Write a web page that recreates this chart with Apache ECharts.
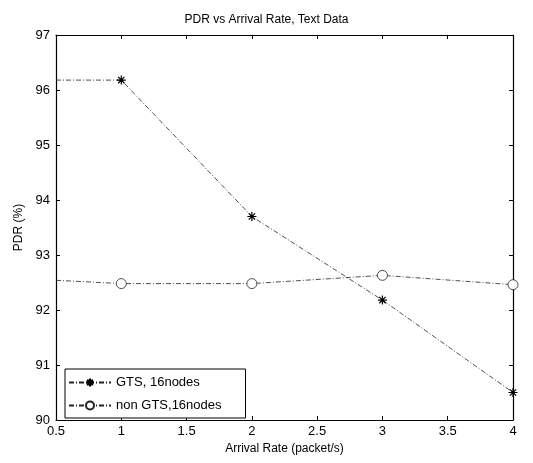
<html>
<head>
    <meta charset="utf-8">
    <script type="text/javascript" src="https://cdn.jsdelivr.net/npm/echarts@6/dist/echarts.min.js"></script>
    <title>pdr_arrival</title>
    <style>
        html, body { margin: 0; padding: 0; background: #fff; }
        #chart { width: 533px; height: 463px; }
    </style>
</head>
<body>
<div id="chart"></div>
<script type="text/javascript">
    // arrival rate (packet/s)
    var rates = [0.5, 1, 2, 3, 4];
    var gts = [96.18, 96.18, 93.7, 92.18, 90.5];
    var nonGts = [92.54, 92.48, 92.48, 92.63, 92.46];
    var seriesNames = ['GTS, 16nodes', 'non GTS,16nodes'];

    var font = 'Liberation Sans, Arial, sans-serif';
    var dashDot = [5, 2, 1, 2];
    var star = 'path://M0,-5L0,5M-5,0L5,0M-3.5,-3.5L3.5,3.5M-3.5,3.5L3.5,-3.5';

    function pairs(ys) {
        var out = [];
        for (var i = 0; i < rates.length; i++) {
            // first point sits on the axis edge, drawn without a marker
            var p = {value: [rates[i], ys[i]]};
            if (i === 0) p.symbol = 'none';
            out.push(p);
        }
        return out;
    }

    var chart = echarts.init(document.getElementById('chart'));
    var axisLine = {show: true, lineStyle: {color: '#000', width: 1.2}};
    var tick = {inside: true, length: 4, lineStyle: {color: '#000'}};
    var option = {
        animation: false,
        backgroundColor: '#fff',
        title: {
            text: 'PDR vs Arrival Rate, Text Data',
            left: 'center', top: 9,
            textStyle: {fontFamily: font, fontSize: 12, fontWeight: 'normal', color: '#000'}
        },
        grid: {left: 56, right: 20, top: 35, bottom: 43},
        legend: {
            orient: 'vertical',
            left: 65, top: 369,
            itemWidth: 42, itemHeight: 10, itemGap: 10,
            padding: [7, 24, 6, 3],
            borderColor: '#000', borderWidth: 1, backgroundColor: '#fff',
            textStyle: {fontFamily: font, fontSize: 13, color: '#000'},
            data: seriesNames
        },
        xAxis: [{
            type: 'value', min: 0.5, max: 4, interval: 0.5,
            name: 'Arrival Rate (packet/s)', nameLocation: 'middle', nameGap: 21,
            nameTextStyle: {fontFamily: font, fontSize: 12, color: '#000'},
            axisLine: axisLine, axisTick: tick,
            axisLabel: {fontFamily: font, fontSize: 13, color: '#000', margin: 5},
            splitLine: {show: false}
        }, {
            type: 'value', position: 'top', min: 0.5, max: 4, interval: 0.5,
            axisLine: axisLine, axisTick: tick,
            axisLabel: {show: false}, splitLine: {show: false}
        }],
        yAxis: [{
            type: 'value', min: 90, max: 97, interval: 1,
            name: 'PDR (%)', nameLocation: 'middle', nameGap: 31,
            nameTextStyle: {fontFamily: font, fontSize: 12, color: '#000'},
            axisLine: axisLine, axisTick: tick,
            axisLabel: {fontFamily: font, fontSize: 13, color: '#000', margin: 6},
            splitLine: {show: false}
        }, {
            type: 'value', position: 'right', min: 90, max: 97, interval: 1,
            axisLine: axisLine, axisTick: tick,
            axisLabel: {show: false}, splitLine: {show: false}
        }],
        series: [{
            name: seriesNames[0], type: 'line',
            data: pairs(gts),
            symbol: star, symbolSize: 9,
            itemStyle: {color: 'none', borderColor: '#000', borderWidth: 1.2},
            lineStyle: {color: '#222', width: 0.8, type: dashDot}
        }, {
            name: seriesNames[1], type: 'line',
            data: pairs(nonGts),
            symbol: 'circle', symbolSize: 10,
            itemStyle: {color: '#fff', borderColor: '#222', borderWidth: 0.8},
            lineStyle: {color: '#222', width: 0.8, type: dashDot}
        }]
    };
    chart.setOption(option);
</script>
</body>
</html>
